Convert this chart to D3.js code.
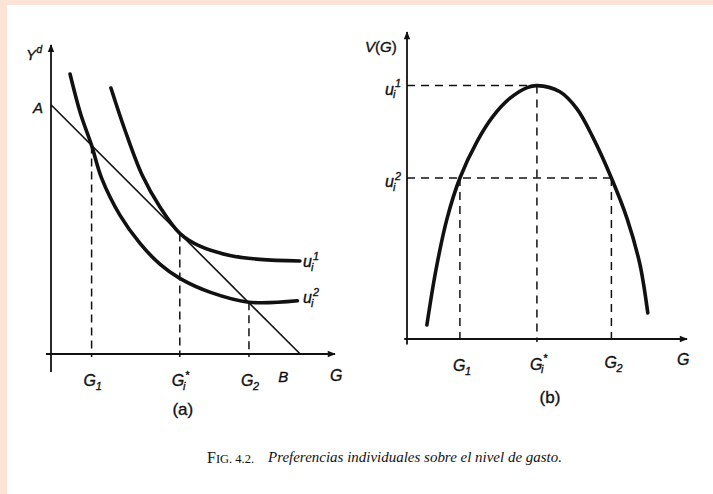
<!DOCTYPE html>
<html>
<head>
<meta charset="utf-8">
<script src="https://cdn.jsdelivr.net/npm/d3@7"></script>
<style>
  body { margin: 0; background: #fff; }
  svg { display: block; }
  .lbl { font-family: "Liberation Sans", Arial, sans-serif; font-style: italic; fill: #111; stroke: #111; stroke-width: 0.35px; }
  .cap { font-family: "Liberation Serif", "DejaVu Serif", serif; fill: #111; }
</style>
</head>
<body>
<div id="graphique"></div>
<script>
// Panel (a) : courbes d'indifference et droite de budget
const courbeU1 = [[2.14, 9.5], [2.64, 8.0], [3.25, 6.4], [3.89, 5.25], [4.61, 4.3], [5.32, 3.85], [6.39, 3.52], [7.46, 3.38], [8.89, 3.32]];
const courbeU2 = [[0.68, 10.0], [1.05, 8.6], [1.45, 7.45], [1.8, 6.3], [2.46, 4.96], [3.18, 3.95], [3.9, 3.2], [4.6, 2.7], [5.7, 2.2], [7.07, 1.85], [8.8, 1.9]];
const droiteBudget = [[0, 8.9], [8.9, 0]];
const ticksA = [1.45, 4.6, 7.07];           // G1, Gi*, G2
const hauteursA = [7.45, 4.3, 1.85];        // haut des pointilles
const etiquettesA = [["G", "1", ""], ["G", "i", "*"], ["G", "2", ""]];

// Panel (b) : fonction V(G)
const courbeV = [[0.71, 0.5], [1.04, 2.5], [1.43, 4.3], [1.89, 5.75], [2.5, 7.05], [3.07, 7.95], [3.68, 8.6], [4.29, 8.98], [4.64, 9.05],
                 [5.46, 8.83], [6.07, 8.22], [6.64, 7.2], [7.3, 5.75], [7.86, 4.3], [8.3, 2.75], [8.45, 1.95], [8.6, 0.93]];
const ticksB = [1.89, 4.64, 7.3];           // G1, Gi*, G2
const niveauxU = [9.05, 5.75];              // u_i^1, u_i^2
const etiquettesB = [["G", "1", ""], ["G", "i", "*"], ["G", "2", ""]];

const legende = "Preferencias individuales sobre el nivel de gasto.";

function Dessin() {
    const width = 713, height = 494;

    const svg = d3.select("#graphique").append("svg")
        .attr("width", width)
        .attr("height", height);

    // bordure saumon
    svg.append("rect").attr("x", 0).attr("y", 0).attr("width", width).attr("height", 5).style("fill", "#fbe3d6");
    svg.append("rect").attr("x", 0).attr("y", 0).attr("width", 7).attr("height", height).style("fill", "#fbe3d6");

    svg.append("defs").append("marker")
        .attr("id", "fleche")
        .attr("viewBox", "0 -5 10 10")
        .attr("refX", 9).attr("refY", 0)
        .attr("markerUnits", "userSpaceOnUse")
        .attr("markerWidth", 10).attr("markerHeight", 8)
        .attr("orient", "auto")
        .append("path")
        .attr("d", "M0,-4L10,0L0,4Z")
        .style("fill", "#111");

    const line = d3.line().curve(d3.curveCatmullRom.alpha(0.5));

    // texte avec indice / exposant
    const largeurs = { G: 0.76, Y: 0.7, u: 0.56, A: 0.67, B: 0.67 };
    function etiquette(x, y, base, sub, sup, size) {
        const t = svg.append("text").attr("class", "lbl")
            .attr("x", x).attr("y", y)
            .style("font-size", size + "px");
        t.append("tspan").text(base);
        const w = (largeurs[base] || 0.6) * size;
        if (sup) t.append("tspan").attr("x", x + w + (sub ? 1 : 0)).attr("y", y - size * 0.45).style("font-size", (size * 0.68) + "px").text(sup);
        if (sub) t.append("tspan").attr("x", x + w - (sup ? 1 : 0)).attr("y", y + size * 0.24).style("font-size", (size * 0.68) + "px").text(sub);
    }

    // ---------- panel (a) ----------
    const xA = d3.scaleLinear().domain([0, 10]).range([51, 331]);
    const yA = d3.scaleLinear().domain([0, 10]).range([354, 74]);

    const gA = svg.append("g");
    const ptA = d => [xA(d[0]), yA(d[1])];

    // axes
    gA.append("line")
        .attr("x1", xA(-0.18)).attr("y1", yA(0)).attr("x2", xA(10.14)).attr("y2", yA(0))
        .style("stroke", "#111").style("stroke-width", 1.8)
        .attr("marker-end", "url(#fleche)");
    gA.append("line")
        .attr("x1", xA(0)).attr("y1", yA(-0.64)).attr("x2", xA(0)).attr("y2", yA(11.04))
        .style("stroke", "#111").style("stroke-width", 1.8)
        .attr("marker-end", "url(#fleche)");

    // pointilles verticaux
    gA.selectAll(".vA")
        .data(ticksA)
        .enter()
        .append("line")
        .attr("x1", d => xA(d)).attr("x2", d => xA(d))
        .attr("y1", (d, i) => yA(hauteursA[i])).attr("y2", yA(0) + 3)
        .style("stroke", "#111").style("stroke-width", 1.5)
        .style("stroke-dasharray", "8,5");

    gA.append("path")
        .attr("d", line(droiteBudget.map(ptA)))
        .style("fill", "none").style("stroke", "#111").style("stroke-width", 1.6);

    [courbeU1, courbeU2].forEach(c => {
        gA.append("path")
            .attr("d", line(c.map(ptA)))
            .style("fill", "none").style("stroke", "#111").style("stroke-width", 3.6)
            .style("stroke-linecap", "round");
    });

    etiquette(26, 60, "Y", "", "d", 15);
    etiquette(33, 113, "A", "", "", 15);
    ticksA.forEach((d, i) => etiquette(xA(d) - 8, 386, etiquettesA[i][0], etiquettesA[i][1], etiquettesA[i][2], 16));
    etiquette(xA(droiteBudget[1][0]) - 22, 382, "B", "", "", 15);
    etiquette(330, 381, "G", "", "", 16);
    etiquette(303, 267, "u", "i", "1", 16);
    etiquette(303, 303, "u", "i", "2", 16);
    svg.append("text").attr("class", "lbl")
        .attr("x", xA(ticksA[1]) + 3).attr("y", 415)
        .attr("text-anchor", "middle")
        .style("font-size", "17px").style("font-style", "normal")
        .text("(a)");

    // ---------- panel (b) ----------
    const xB = d3.scaleLinear().domain([0, 10]).range([407, 687]);
    const yB = d3.scaleLinear().domain([0, 10]).range([339, 59]);
    const gB = svg.append("g");
    const ptB = d => [xB(d[0]), yB(d[1])];

    gB.append("line")
        .attr("x1", xB(-0.1)).attr("y1", yB(0)).attr("x2", xB(10)).attr("y2", yB(0))
        .style("stroke", "#111").style("stroke-width", 1.8)
        .attr("marker-end", "url(#fleche)");
    gB.append("line")
        .attr("x1", xB(0)).attr("y1", yB(-0.2)).attr("x2", xB(0)).attr("y2", yB(10.96))
        .style("stroke", "#111").style("stroke-width", 1.8)
        .attr("marker-end", "url(#fleche)");

    // pointilles horizontaux
    gB.selectAll(".hB")
        .data(niveauxU)
        .enter()
        .append("line")
        .attr("x1", xB(0)).attr("x2", (d, i) => xB(i === 0 ? ticksB[1] : ticksB[2]))
        .attr("y1", d => yB(d)).attr("y2", d => yB(d))
        .style("stroke", "#111").style("stroke-width", 1.5)
        .style("stroke-dasharray", "8,6");

    // pointilles verticaux
    gB.selectAll(".vB")
        .data(ticksB)
        .enter()
        .append("line")
        .attr("x1", d => xB(d)).attr("x2", d => xB(d))
        .attr("y1", (d, i) => yB(i === 1 ? niveauxU[0] : niveauxU[1])).attr("y2", yB(0) + 3)
        .style("stroke", "#111").style("stroke-width", 1.5)
        .style("stroke-dasharray", "8,6");

    gB.append("path")
        .attr("d", line(courbeV.map(ptB)))
        .style("fill", "none").style("stroke", "#111").style("stroke-width", 3.6)
        .style("stroke-linecap", "round");

    const tV = svg.append("text").attr("class", "lbl")
        .attr("x", 365).attr("y", 52).style("font-size", "15px");
    tV.append("tspan").text("V");
    tV.append("tspan").style("font-style", "normal").text("(");
    tV.append("tspan").text("G");
    tV.append("tspan").style("font-style", "normal").text(")");

    etiquette(385, yB(niveauxU[0]) + 9, "u", "i", "1", 16);
    etiquette(385, yB(niveauxU[1]) + 9, "u", "i", "2", 16);
    ticksB.forEach((d, i) => etiquette(xB(d) - 7, 371 - i * 1.5, etiquettesB[i][0], etiquettesB[i][1], etiquettesB[i][2], 16));
    etiquette(677, 365, "G", "", "", 16);
    svg.append("text").attr("class", "lbl")
        .attr("x", xB(ticksB[1]) + 13).attr("y", 403)
        .attr("text-anchor", "middle")
        .style("font-size", "17px").style("font-style", "normal")
        .text("(b)");

    // ---------- legende ----------
    const cap = svg.append("text").attr("class", "cap")
        .attr("x", 207).attr("y", 463);
    cap.append("tspan").style("font-size", "16px").text("F");
    cap.append("tspan").style("font-size", "12.5px").text("IG. 4.2.");
    svg.append("text").attr("class", "cap")
        .attr("x", 268).attr("y", 462)
        .style("font-style", "italic").style("font-size", "15.5px")
        .attr("textLength", 294).attr("lengthAdjust", "spacingAndGlyphs")
        .text(legende);
}

Dessin();
</script>
</body>
</html>
